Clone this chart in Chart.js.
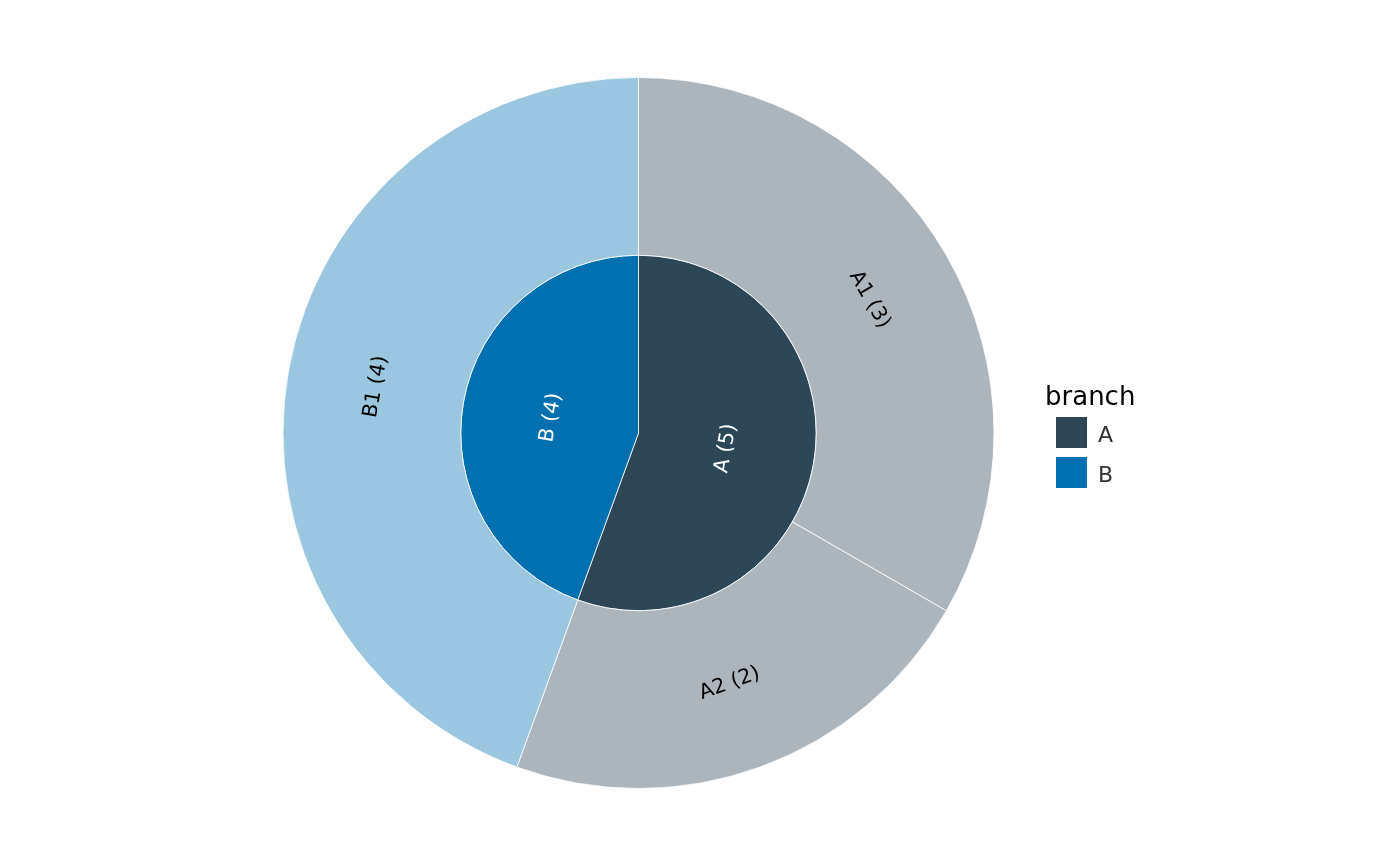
<!DOCTYPE html>
<html>
<head>
<meta charset="utf-8">
<script src="https://cdn.jsdelivr.net/npm/chart.js@4.4.0/dist/chart.umd.min.js"></script>
<style>
html,body{margin:0;padding:0;background:#fff;}
#wrap{width:1400px;height:866px;position:relative;}
</style>
</head>
<body>
<div id="wrap"><canvas id="c" width="1400" height="866"></canvas></div>
<script>
// Inner ring (branch)
const branchLabels = ['A', 'B'];
const branchValues = [5, 4];
const branchColors = ['#2E4757', '#0070B0'];
// Outer ring (leaves)
const leafLabels = ['A1', 'A2', 'B1'];
const leafValues = [3, 2, 4];
const leafColors = ['#ADB5BC', '#ADB5BC', '#9AC6DF'];
const legendTitle = 'branch';

const labelPlugin = {
  id: 'sliceLabels',
  afterDatasetsDraw(chart) {
    const ctx = chart.ctx;
    chart.data.datasets.forEach((ds, di) => {
      const meta = chart.getDatasetMeta(di);
      meta.data.forEach((arc, i) => {
        const p = arc.getProps(['x','y','startAngle','endAngle','innerRadius','outerRadius'], true);
        const mid = (p.startAngle + p.endAngle) / 2;
        const r = (p.innerRadius + p.outerRadius) / 2;
        const x = p.x + r * Math.cos(mid);
        const y = p.y + r * Math.sin(mid);
        let rot = mid + Math.PI / 2;
        rot = Math.atan2(Math.sin(rot), Math.cos(rot));
        if (rot > Math.PI / 2) rot -= Math.PI;
        if (rot < -Math.PI / 2) rot += Math.PI;
        ctx.save();
        ctx.translate(x, y);
        ctx.rotate(rot);
        ctx.font = '20.5px "DejaVu Sans"';
        ctx.fillStyle = ds.labelColor;
        ctx.textAlign = 'center';
        ctx.textBaseline = 'middle';
        ctx.fillText(ds.names[i] + ' (' + ds.data[i] + ')', 0, 0);
        ctx.restore();
      });
    });
  }
};

const legendPlugin = {
  id: 'customLegend',
  afterDraw(chart) {
    const ctx = chart.ctx;
    ctx.save();
    ctx.textAlign = 'left';
    ctx.textBaseline = 'alphabetic';
    ctx.fillStyle = '#000000';
    ctx.font = '26px "DejaVu Sans"';
    ctx.fillText(legendTitle, 1045, 405);
    branchLabels.forEach((lab, i) => {
      const y = 417 + i * 40;
      ctx.fillStyle = branchColors[i];
      ctx.fillRect(1056, y, 31, 31);
      ctx.fillStyle = '#333333';
      ctx.font = '22px "DejaVu Sans"';
      ctx.fillText(lab, 1098, y + 25);
    });
    ctx.restore();
  }
};

new Chart(document.getElementById('c'), {
  type: 'doughnut',
  data: {
    labels: leafLabels,
    datasets: [
      { data: leafValues, names: leafLabels, backgroundColor: leafColors, borderColor: '#ffffff', borderWidth: 0.8, labelColor: '#000000' },
      { data: branchValues, names: branchLabels, backgroundColor: branchColors, borderColor: '#ffffff', borderWidth: 0.8, labelColor: '#ffffff' }
    ]
  },
  options: {
    responsive: false,
    animation: false,
    cutout: 0,
    radius: 355.5,
    layout: { padding: { left: 282.5, right: 405.5, top: 77, bottom: 77 } },
    plugins: { legend: { display: false }, tooltip: { enabled: false } }
  },
  plugins: [labelPlugin, legendPlugin]
});
</script>
</body>
</html>
